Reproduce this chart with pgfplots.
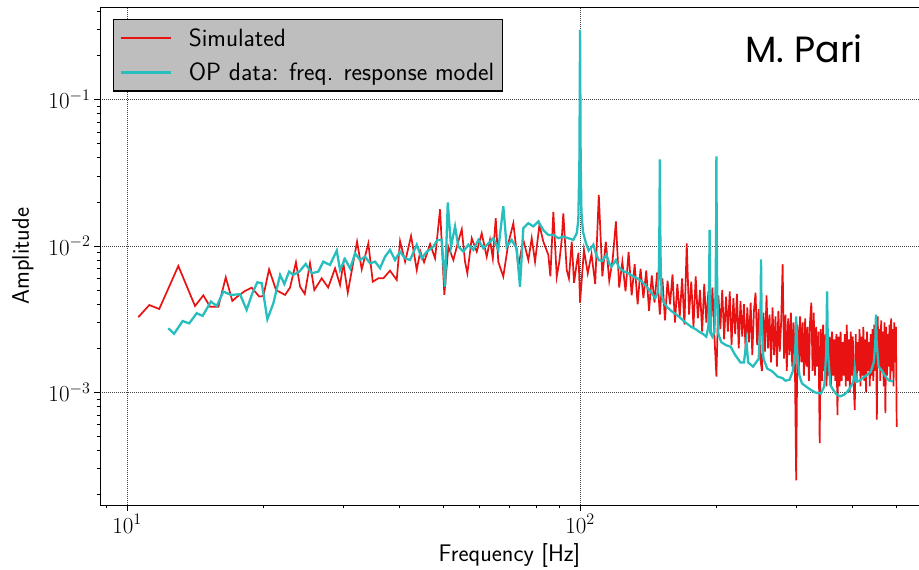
\RequirePackage{fix-cm}
\documentclass[border=0pt]{standalone}
\usepackage{fontspec}
\newfontfamily\poppins{Poppins}
\usepackage{pgfplots}
\pgfplotsset{compat=1.18}
\usetikzlibrary{calc}
\definecolor{simred}{RGB}{232,18,18}
\definecolor{opcyan}{RGB}{40,190,190}
\definecolor{leggray}{RGB}{190,190,190}
\begin{document}
\begin{tikzpicture}
\begin{axis}[
  xmode=log, ymode=log,
  scale only axis, width=819pt, height=497.5pt,
  xmin=8.718, xmax=560, ymin=1.70e-4, ymax=0.4256,
  axis x line*=box, axis y line*=left,
  xtick pos=left, ytick pos=left,
  tick align=outside,
  major tick length=6pt, minor tick length=3.5pt,
  xtick={10,100}, ytick={0.001,0.01,0.1},
  minor xtick={9,20,30,40,50,60,70,80,90,200,300,400,500},
  minor ytick={2e-4,3e-4,4e-4,5e-4,6e-4,7e-4,8e-4,9e-4,0.002,0.003,0.004,0.005,0.006,0.007,0.008,0.009,0.02,0.03,0.04,0.05,0.06,0.07,0.08,0.09,0.2,0.3,0.4},
  xmajorgrids, ymajorgrids,
  major grid style={black!75, dash pattern=on 1pt off 1pt, line width=0.6pt},
  tick style={black, line width=0.8pt},
  axis line style={black, line width=1pt},
  tick label style={font=\fontsize{23}{27}\selectfont},
  label style={font=\sffamily\fontsize{24}{28}\selectfont},
  xlabel={Frequency [Hz]}, ylabel={Amplitude},
  ylabel shift=8pt, xlabel shift=3pt,
  legend cell align=left,
  legend style={at={(axis description cs:0.0155,0.977)}, anchor=north west,
    fill=leggray, font=\sffamily\fontsize{25}{29}\selectfont,
    inner xsep=6pt, inner ysep=7pt, row sep=11pt,
    /tikz/every odd column/.append style={column sep=15pt}},
  every axis legend/.append style={draw=black, line width=1.2pt},
  legend image code/.code={\draw[#1] (0pt,0pt) -- (50pt,0pt);},
]
\addlegendimage{color=simred, draw=simred, line width=2pt}
\addlegendentry{Simulated}
\addlegendimage{color=opcyan, draw=opcyan, line width=2.5pt}
\addlegendentry{OP data: freq. response model}
\addplot[color=simred, line width=1.7pt, forget plot] coordinates {
(10.59,0.00326) (11.20,0.00395) (11.78,0.00371) (12.98,0.0073) (14.13,0.00389)
(14.74,0.0046) (15.25,0.00385) (15.91,0.00385) (16.52,0.00611) (17.08,0.00421)
(17.52,0.00451) (18.22,0.00493) (18.85,0.00519) (19.59,0.00451) (20.0,0.00456)
(20.59,0.00693) (21.33,0.005) (22.33,0.00463) (22.9,0.00519) (23.6,0.00774)
(24.1,0.00527) (24.68,0.0047) (25.35,0.00762) (25.91,0.005) (26.9,0.00601)
(27.8,0.0052) (28.79,0.00704) (29.53,0.00542) (30.03,0.00762) (30.71,0.0048) (32.2,0.0107)
(32.97,0.00693) (34.10,0.0104) (34.87,0.0057) (35.87,0.00601) (36.8,0.00601)
(38.07,0.00678) (39.39,0.00586) (40.06,0.0108) (41.1,0.00781) (42.37,0.0117)
(43.61,0.00686) (44.4,0.0092) (45.26,0.00774) (46.66,0.0103) (47.86,0.00824) (49.09,0.0178)
(50.17,0.00463) (51.21,0.00989) (52.53,0.00802) (53.6,0.0102) (54.82,0.013)
(55.74,0.00781) (56.4,0.00651) (57.67,0.0113) (59.16,0.00914) (60.67,0.0122)
(62.23,0.00845) (63.29,0.011) (64.2,0.0082) (65.15,0.0155) (66.0,0.00781) (67.7,0.00617)
(69.45,0.0104) (71.25,0.0143) (73.08,0.00722) (74.96,0.011) (76.9,0.00802)
(78.24,0.0113) (79.57,0.00781) (81.33,0.0139) (82.99,0.0107) (85.11,0.00869)
(86.0,0.0062) (87.31,0.0171) (88.83,0.00617) (90.0,0.0078) (91.1,0.011) (91.85,0.0167)
(93.45,0.00686) (94.5,0.0060) (95.87,0.0107) (97.0,0.0056) (98.33,0.00762) (99.2,0.0090)
(100,0.0041) (102,0.0094) (104,0.0065) (106,0.0088) (108,0.0055)
(110,0.0223) (112,0.0062) (114,0.0107) (116,0.0058) (118,0.0080)
(120,0.0147) (122,0.0052) (124,0.0078) (126,0.0049) (128,0.0091)
(130,0.0046) (132,0.0075) (134,0.0040) (136,0.0070) (138,0.0044)
(140,0.0068) (142,0.0036) (144,0.0063) (146,0.0041) (148,0.0066)
(150,0.0034) (152,0.0060) (154,0.0031) (156,0.0058) (158,0.0040)
(160,0.0064) (162,0.0030) (164,0.0055) (166,0.0033) (168,0.0060)
(170,0.0029) (172,0.0104) (174,0.0034) (176,0.0057) (178,0.0028)
(180,0.0062) (182,0.0032) (184,0.0050) (186,0.0026) (188,0.0055)
(190,0.0030) (192,0.0049) (194,0.0025) (196,0.0052) (198,0.0024)
(200,0.00128) (202,0.0046) (204,0.0027) (206,0.0050) (208,0.0023)
(210,0.0045) (212,0.0026) (214,0.0049) (216,0.0021) (218,0.0044)
(220,0.0025) (222,0.0047) (224,0.0020) (226,0.0042) (228,0.0024)
(230,0.0040) (232,0.0019) (234,0.0038) (236,0.0022) (238,0.0041)
(240,0.0018) (242,0.0036) (244,0.0048) (246,0.0021) (248,0.0037)
(250,0.0017) (252,0.0014) (254,0.0035) (256,0.0019) (258,0.0046)
(260,0.0020) (262,0.0034) (264,0.0016) (266,0.0038) (268,0.0018)
(270,0.0033) (272,0.0015) (274,0.0036) (276,0.0019) (278,0.0031)
(280,0.0075) (282,0.0017) (284,0.0034) (286,0.0014) (288,0.0032)
(290,0.0018) (292,0.0035) (294,0.0015) (296,0.0030) (298,0.0016)
(300,0.00025) (302,0.0029) (304,0.0014) (306,0.0033) (308,0.0016)
(310,0.0030) (312,0.0013) (314,0.0032) (316,0.0015) (318,0.0028)
(320,0.0012) (322,0.0031) (324,0.0041) (326,0.0014) (328,0.0035)
(330,0.0013) (332,0.0028) (334,0.0015) (336,0.0026) (338,0.00045)
(340,0.0027) (342,0.0012) (344,0.0029) (346,0.0014) (348,0.0025)
(350,0.0011) (352,0.0027) (354,0.0013) (356,0.0024) (358,0.0011)
(360,0.0026) (362,0.0013) (364,0.0023) (366,0.0012) (368,0.0025)
(370,0.0007) (372,0.0024) (374,0.0011) (376,0.0026) (378,0.0012)
(380,0.0022) (382,0.0013) (384,0.0025) (386,0.0011) (388,0.0029)
(390,0.0012) (392,0.0023) (394,0.0010) (396,0.0026) (398,0.0013)
(400,0.0024) (402,0.0011) (404,0.00076) (406,0.0025) (408,0.0012)
(410,0.0022) (412,0.0014) (414,0.0027) (416,0.0011) (418,0.0024)
(420,0.0013) (422,0.0028) (424,0.0012) (426,0.0023) (428,0.0010)
(430,0.0026) (432,0.0014) (434,0.0022) (436,0.0011) (438,0.0025)
(440,0.0013) (442,0.0027) (444,0.0012) (446,0.0029) (448,0.0014)
(450,0.0025) (452,0.00065) (454,0.0033) (456,0.0015) (458,0.0027)
(460,0.0012) (462,0.0031) (464,0.0014) (466,0.0026) (468,0.0011)
(470,0.0030) (472,0.00072) (474,0.0028) (476,0.0013) (478,0.0025)
(480,0.0015) (482,0.0029) (484,0.0012) (486,0.0032) (488,0.0014)
(490,0.0027) (492,0.0011) (494,0.0030) (496,0.0016) (498,0.0028)
(500,0.00058)
};
\addplot[color=opcyan, line width=2.3pt, forget plot] coordinates {
(12.34,0.00274) (12.70,0.00251) (13.27,0.00307) (13.72,0.00296) (14.25,0.00347)
(14.69,0.00333) (15.32,0.00417) (15.78,0.00389) (16.32,0.00488) (16.97,0.00463)
(17.76,0.00468) (18.37,0.00366) (18.91,0.00475) (19.4,0.00565) (19.84,0.00556)
(20.41,0.00316) (21.04,0.00406) (21.77,0.00634) (22.25,0.0055) (22.79,0.00668)
(23.28,0.00634) (24.0,0.00668) (24.8,0.00753) (25.57,0.00651) (26.44,0.00668)
(27.12,0.00781) (28.06,0.00742) (29.04,0.00929) (29.53,0.00686) (30.28,0.00815)
(31.1,0.0070) (31.87,0.00891) (32.69,0.00802) (33.53,0.00845) (34.39,0.00762)
(35.28,0.00781) (36.19,0.00705) (37.12,0.00845) (38.07,0.0094) (39.05,0.00802)
(40.06,0.00914) (41.1,0.00824) (42.16,0.00802) (43.61,0.0102) (44.73,0.00824)
(45.88,0.00914) (47.46,0.00989) (48.42,0.011) (49.52,0.011) (50.35,0.00527)
(51.05,0.0198) (51.91,0.00989) (52.98,0.0136) (53.87,0.00989) (55.27,0.00914)
(56.68,0.0102) (58.14,0.0094) (59.64,0.011) (61.18,0.00964) (62.75,0.0104)
(64.37,0.0113) (66.0,0.0094) (67.7,0.0187) (68.88,0.00989) (70.65,0.011)
(72.48,0.00964) (73.7,0.00527) (74.96,0.0132) (76.9,0.0143) (78.87,0.0136)
(80.9,0.0147) (82.99,0.0128) (85.11,0.0119) (87.31,0.0119) (89.55,0.0113)
(91.85,0.0116) (94.24,0.0113) (96.65,0.011) (98.33,0.0122) (99.13,0.015)
(99.7,0.04) (100,0.299) (100.3,0.04) (100.7,0.017) (101.5,0.0125)
(103,0.0105) (104.5,0.0093) (106,0.0098) (107,0.0102) (108.5,0.0088)
(110,0.0080) (112,0.0079) (114.4,0.0087) (116,0.0076) (117.2,0.0072)
(120,0.0080) (122,0.0071) (125,0.0067) (128,0.0065) (131,0.0062)
(134,0.0060) (137,0.0057) (140,0.0053) (143,0.0049) (146.5,0.0044)
(148.5,0.0048) (149.3,0.007) (149.7,0.014) (150,0.039) (150.3,0.014) (150.7,0.007) (151.5,0.0046)
(153,0.0041) (156,0.0038) (159,0.0036) (163,0.0034) (167,0.0032)
(171,0.0030) (176,0.0028) (180,0.0027) (183,0.0026) (187,0.0025)
(190,0.0024) (192,0.0028) (192.7,0.0050) (193.2,0.0129) (193.7,0.0050)
(194.5,0.0025) (196,0.0024) (198,0.0026) (199.2,0.005) (199.7,0.012) (200,0.041)
(200.3,0.012) (200.8,0.005) (202,0.0025) (205,0.0022) (210,0.0021) (215,0.00205)
(220,0.0018) (226,0.0016) (230,0.0016) (233,0.0022) (235,0.0016)
(241,0.0015) (248,0.0017) (250.2,0.0032) (250.9,0.0081) (251.6,0.0032)
(254,0.0017) (259,0.00145) (265,0.0014) (273,0.00128) (280,0.00125)
(284,0.0012) (290,0.00122) (295,0.0014) (298.5,0.0019) (300,0.0033)
(301.5,0.0019) (305,0.0013) (309,0.00115) (315,0.0011) (323,0.00104)
(330,0.001) (340,0.00098) (346,0.0011) (349.5,0.0019) (351,0.0049)
(352.5,0.0019) (357,0.00112) (362,0.00104) (368,0.00097) (375,0.00094)
(382,0.00096) (388,0.001) (395,0.00108) (401,0.00118) (404,0.00146)
(407,0.00118) (414,0.0012) (420,0.00125) (428,0.0013) (438,0.00138)
(445,0.0016) (448.5,0.0022) (450,0.0034) (451.5,0.0022) (456,0.0015)
(465,0.00139) (475,0.00125) (482,0.0012) (487,0.0012) (490,0.00118)
};
\node[anchor=base west, font=\poppins\fontsize{36.5}{42}\selectfont]
  at (axis description cs:0.7839,0.8898) {M. Pari};
\end{axis}
\pgfresetboundingbox
\path[use as bounding box] ($(current axis.south west)+(-100pt,-65pt)$) rectangle ($(current axis.north east)+(0pt,7.5pt)$);
\end{tikzpicture}
\end{document}
